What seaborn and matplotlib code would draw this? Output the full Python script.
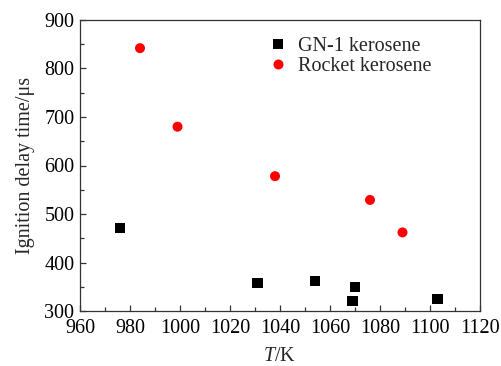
import matplotlib
matplotlib.use("Agg")
import matplotlib.pyplot as plt
import seaborn as sns
import pandas as pd
from matplotlib.ticker import MultipleLocator

# Ignition delay measurements
gn1_T = [976, 1031, 1054, 1070, 1069, 1103]
gn1_delay = [471, 357, 362, 350, 320, 325]
rocket_T = [984, 999, 1038, 1076, 1089]
rocket_delay = [842, 680, 578, 529, 462]
fuels = ["GN-1 kerosene", "Rocket kerosene"]

df = pd.DataFrame({
    "T": gn1_T + rocket_T,
    "delay": gn1_delay + rocket_delay,
    "fuel": [fuels[0]] * len(gn1_T) + [fuels[1]] * len(rocket_T),
})

sns.set_style("ticks")
plt.rcParams["font.family"] = ["Liberation Serif", "DejaVu Serif"]
plt.rcParams["mathtext.fontset"] = "custom"
plt.rcParams["mathtext.it"] = "Liberation Serif:italic"
plt.rcParams["mathtext.rm"] = "Liberation Serif"

FS = 14.5

fig = plt.figure(figsize=(5.01, 3.66), dpi=100)
ax = fig.add_axes([80 / 501, 55 / 366, 400 / 501, 291 / 366])

sns.scatterplot(
    data=df, x="T", y="delay", hue="fuel", style="fuel",
    hue_order=fuels, style_order=fuels,
    palette={fuels[0]: "black", fuels[1]: "#ff0000"},
    markers={fuels[0]: "s", fuels[1]: "o"},
    s=52, edgecolor="none", linewidth=0, ax=ax, legend=True,
)

ax.set_xlim(960, 1120)
ax.set_ylim(300, 900)
ax.xaxis.set_major_locator(MultipleLocator(20))
ax.xaxis.set_minor_locator(MultipleLocator(10))
ax.yaxis.set_major_locator(MultipleLocator(100))
ax.yaxis.set_minor_locator(MultipleLocator(50))
ax.tick_params(which="both", direction="in", top=False, right=False,
               colors="#333333", labelcolor="black", width=0.9)
ax.tick_params(which="major", length=4.5, labelsize=FS)
ax.tick_params(axis="y", which="major", pad=4)
ax.tick_params(axis="x", which="major", pad=6)
ax.tick_params(which="minor", length=2.8)
for sp in ax.spines.values():
    sp.set_color("#333333")
    sp.set_linewidth(0.9)

ax.set_xlabel("$T$/K", fontsize=FS, labelpad=6)
ax.set_ylabel("Ignition delay time/μs", fontsize=FS, labelpad=7)

leg = ax.legend(loc="upper left", bbox_to_anchor=(0.47, 0.943), frameon=False,
                fontsize=FS, handletextpad=0.5, labelspacing=0.05,
                handlelength=1.0, borderaxespad=0, borderpad=0)

fig.savefig("out.png", dpi=100)
